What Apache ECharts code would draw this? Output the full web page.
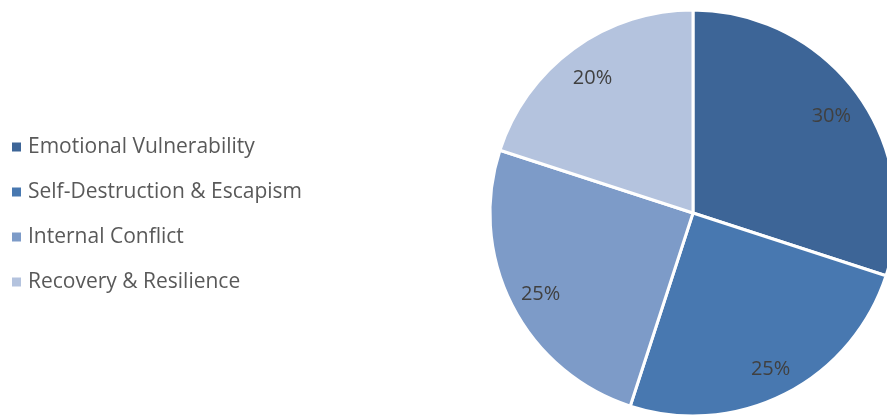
<!DOCTYPE html>
<html>
<head>
<meta charset="utf-8">
<script src="https://cdn.jsdelivr.net/npm/echarts@6/dist/echarts.min.js"></script>
<style>html,body{margin:0;padding:0;background:#fff}#c{width:887px;height:417px}</style>
</head>
<body>
<div id="c"></div>
<script>
var categories = ["Emotional Vulnerability", "Self-Destruction & Escapism", "Internal Conflict", "Recovery & Resilience"];
var values = [30, 25, 25, 20];
var colors = ["#3d6597", "#4878b0", "#7d9bc8", "#b4c3de"];

var chart = echarts.init(document.getElementById('c'), null, {renderer: 'canvas'});
var data = categories.map(function (n, i) { return {name: n, value: values[i], itemStyle: {color: colors[i]}}; });
var labelData = categories.map(function (n, i) { return {name: n, value: values[i]}; });
chart.setOption({
  animation: false,
  legend: {
    orient: 'vertical', left: 12, top: 136, padding: 0,
    itemWidth: 9, itemHeight: 9, itemGap: 23, icon: 'rect',
    itemStyle: {borderWidth: 0},
    data: categories,
    textStyle: {fontFamily: 'Open Sans', fontSize: 21, color: '#595959', lineHeight: 22, padding: [0, 0, 0, 2]}
  },
  series: [{
    type: 'pie', center: [693, 213], radius: [0, 203], startAngle: 90, clockwise: true,
    data: data, silent: true,
    itemStyle: {borderColor: '#ffffff', borderWidth: 3},
    label: {show: false}, labelLine: {show: false}
  }, {
    type: 'pie', center: [693, 213], radius: [133, 203], startAngle: 90, clockwise: true,
    data: labelData, silent: true, legendHoverLink: false,
    itemStyle: {color: 'rgba(0,0,0,0)'},
    label: {show: true, position: 'inside', formatter: '{c}%', fontFamily: 'Open Sans', fontSize: 20, color: '#404040', offset: [0, 4]},
    labelLine: {show: false}
  }]
});
</script>
</body>
</html>
